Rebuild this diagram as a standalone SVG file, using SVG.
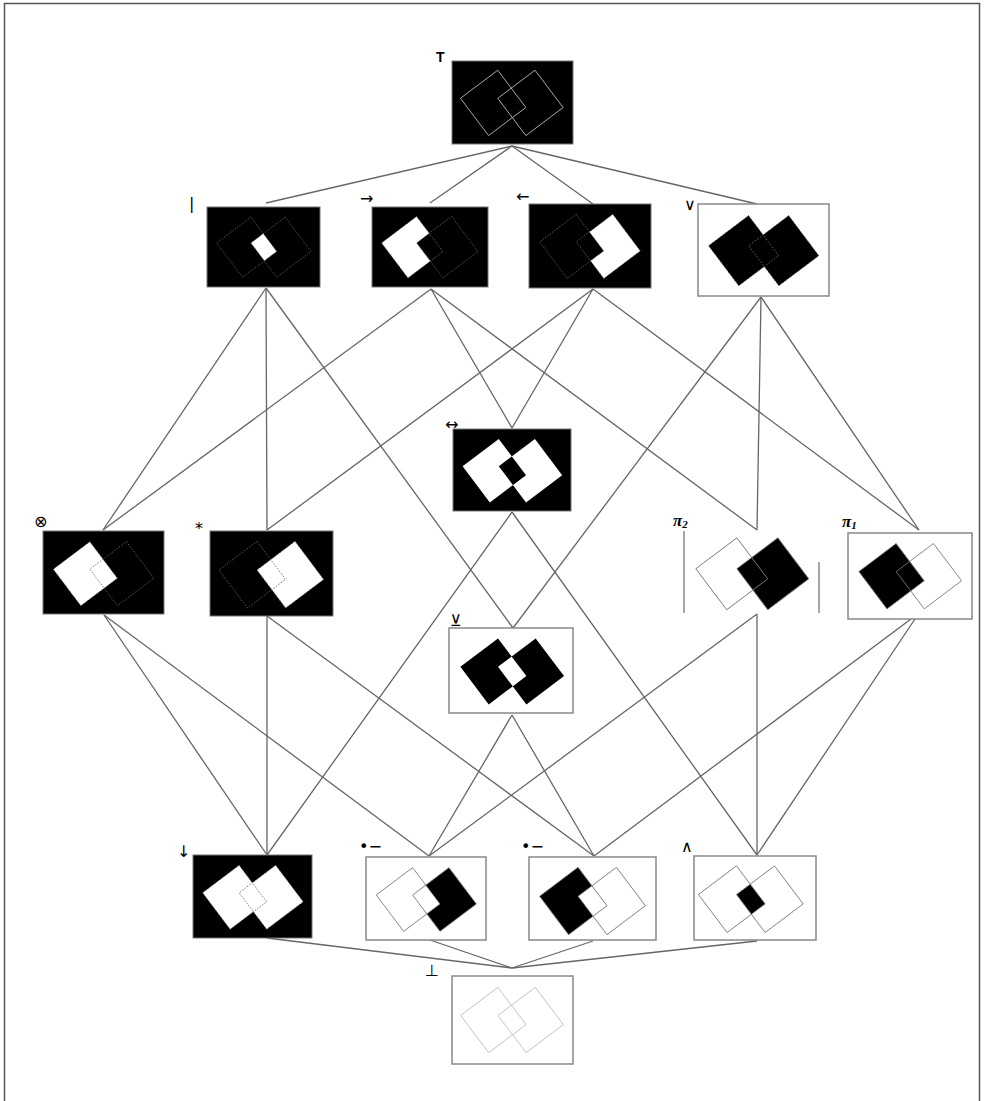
<svg xmlns="http://www.w3.org/2000/svg" xmlns:xlink="http://www.w3.org/1999/xlink" width="985" height="1101" viewBox="0 0 985 1101">
<style>
.bb{fill:#000;stroke:#777;stroke-width:1}
.wb{fill:#fff;stroke:#888;stroke-width:1.5}
.w{fill:#fff}
.k{fill:#000}
.dot{fill:none;stroke:#666;stroke-width:0.9;stroke-dasharray:1.5 1.5}
.lt{fill:none;stroke:#bbb;stroke-width:0.9}
.thin{fill:none;stroke:#777;stroke-width:0.9}
.lbl{font-family:"DejaVu Sans",sans-serif;font-size:16px;fill:#000}
.pi{font-family:"Liberation Serif",serif;font-size:17px;font-weight:bold;font-style:italic;fill:#000}
.cn line{stroke:#666;stroke-width:1.3}
.side{stroke:#888;stroke-width:1.5}
</style>
<defs>
<path id="L" d="M-14.06,-32.68 L14.03,4.59 L-23.24,32.68 L-51.33,-4.59 Z"/>
<path id="R" d="M23.24,-32.68 L51.33,4.59 L14.06,32.68 L-14.03,-4.59 Z"/>
<path id="I" d="M-14.03,-4.59 L-0.55,-14.76 L14.03,4.59 L0.55,14.76 Z"/>
<path id="Lo" fill-rule="evenodd" d="M-14.06,-32.68 L14.03,4.59 L-23.24,32.68 L-51.33,-4.59 Z M-14.03,-4.59 L-0.55,-14.76 L14.03,4.59 L0.55,14.76 Z"/>
<path id="Ro" fill-rule="evenodd" d="M23.24,-32.68 L51.33,4.59 L14.06,32.68 L-14.03,-4.59 Z M-14.03,-4.59 L-0.55,-14.76 L14.03,4.59 L0.55,14.76 Z"/>
<path id="X" fill-rule="evenodd" d="M-14.06,-32.68 L14.03,4.59 L-23.24,32.68 L-51.33,-4.59 Z M23.24,-32.68 L51.33,4.59 L14.06,32.68 L-14.03,-4.59 Z"/>
<g id="OL"><use xlink:href="#L"/><use xlink:href="#R"/></g>
</defs>

<rect x="4.5" y="3.5" width="975" height="1110" fill="#fff" stroke="#555" stroke-width="1.5"/>

<g id="connectors" class="cn">
<line x1="512" y1="146" x2="266" y2="203"/>
<line x1="512" y1="146" x2="430" y2="203"/>
<line x1="512" y1="146" x2="593" y2="204"/>
<line x1="512" y1="146" x2="757" y2="204"/>
<line x1="266" y1="288" x2="103" y2="530"/>
<line x1="266" y1="288" x2="267" y2="530"/>
<line x1="266" y1="288" x2="513" y2="628"/>
<line x1="431" y1="289" x2="103" y2="530"/>
<line x1="431" y1="289" x2="757" y2="530"/>
<line x1="431" y1="289" x2="512" y2="428"/>
<line x1="593" y1="289" x2="267" y2="530"/>
<line x1="593" y1="289" x2="919" y2="530"/>
<line x1="593" y1="289" x2="512" y2="428"/>
<line x1="761" y1="297" x2="919" y2="530"/>
<line x1="761" y1="297" x2="757" y2="530"/>
<line x1="761" y1="297" x2="513" y2="628"/>
<line x1="104" y1="615" x2="267" y2="855"/>
<line x1="104" y1="615" x2="429" y2="856"/>
<line x1="267" y1="616" x2="267" y2="855"/>
<line x1="267" y1="616" x2="594" y2="856"/>
<line x1="512" y1="512" x2="267" y2="855"/>
<line x1="512" y1="512" x2="757" y2="855"/>
<line x1="512" y1="715" x2="429" y2="856"/>
<line x1="512" y1="715" x2="594" y2="856"/>
<line x1="757" y1="614" x2="429" y2="856"/>
<line x1="757" y1="614" x2="757" y2="855"/>
<line x1="919" y1="613" x2="594" y2="856"/>
<line x1="919" y1="613" x2="757" y2="855"/>
<line x1="267" y1="938" x2="512" y2="968"/>
<line x1="430" y1="940" x2="512" y2="968"/>
<line x1="593" y1="941" x2="512" y2="968"/>
<line x1="757" y1="941" x2="512" y2="968"/>
</g>

<g id="n-top">
<rect class="bb" x="452" y="61" width="121" height="83"/>
<g transform="translate(511.8,102.9)"><use xlink:href="#OL" class="lt"/></g>
<text x="436" y="62" font-family="Liberation Sans, sans-serif" font-size="14" font-weight="bold">T</text>
</g>

<g id="n-nand">
<rect class="bb" x="207" y="207" width="113" height="80"/>
<g transform="translate(263.8,247.2) scale(0.92)"><use xlink:href="#I" class="w"/><use xlink:href="#OL" class="dot"/></g>
<text class="lbl" x="189" y="209">|</text>
</g>

<g id="n-impl">
<rect class="bb" x="372" y="207" width="116" height="80"/>
<g transform="translate(429.8,247.2) scale(0.94)"><use xlink:href="#Lo" class="w"/><use xlink:href="#OL" class="dot"/></g>
<text class="lbl" x="360" y="204" font-size="19">→</text>
</g>

<g id="n-rimpl">
<rect class="bb" x="529" y="204" width="122" height="84"/>
<g transform="translate(590,246.4) scale(0.98)"><use xlink:href="#Ro" class="w"/><use xlink:href="#OL" class="dot"/></g>
<text class="lbl" x="516" y="202" font-size="19">←</text>
</g>

<g id="n-or">
<rect class="wb" x="698" y="204" width="131" height="92"/>
<g transform="translate(763.7,250.7) scale(1.075)"><use xlink:href="#L" class="k"/><use xlink:href="#R" class="k"/><use xlink:href="#OL" class="dot"/></g>
<text class="lbl" x="684" y="210" font-size="17">∨</text>
</g>

<g id="n-iff">
<rect class="bb" x="453" y="429" width="118" height="82"/>
<g transform="translate(512.4,470.7) scale(0.97)"><use xlink:href="#X" class="w"/></g>
<text class="lbl" x="445" y="430" font-size="16">↔</text>
</g>

<g id="n-nota">
<rect class="bb" x="43" y="531" width="121" height="83"/>
<g transform="translate(103.6,573.7) scale(0.98)"><use xlink:href="#L" class="w"/><use xlink:href="#OL" class="dot"/></g>
<text class="lbl" x="34" y="527" font-size="15">⊗</text>
</g>

<g id="n-notb">
<rect class="bb" x="210" y="531" width="123" height="85"/>
<g transform="translate(271.3,574.7) scale(1.02)"><use xlink:href="#R" class="w"/><use xlink:href="#OL" class="dot"/></g>
<text class="lbl" x="195" y="534" font-size="17">*</text>
</g>

<g id="n-pi2">
<line class="side" x1="684" y1="531" x2="684" y2="613"/>
<line class="side" x1="819" y1="562" x2="819" y2="613"/>
<g transform="translate(752.3,573.8) scale(1.1)"><use xlink:href="#R" class="k"/><use xlink:href="#OL" class="thin"/></g>
<text class="pi" x="673" y="526">π<tspan font-size="11" dy="2">2</tspan></text>
</g>

<g id="n-pi1">
<rect class="wb" x="848" y="533" width="124" height="86"/>
<g transform="translate(910.2,576.2)"><use xlink:href="#L" class="k"/><use xlink:href="#OL" class="thin"/></g>
<text class="pi" x="842" y="527">π<tspan font-size="11" dy="2">1</tspan></text>
</g>

<g id="n-xor">
<rect class="wb" x="449" y="628" width="124" height="85"/>
<g transform="translate(512.2,671.4) scale(1.01)"><use xlink:href="#X" class="k"/></g>
<text class="lbl" x="450" y="626" font-size="15">⊻</text>
</g>

<g id="n-nor">
<rect class="bb" x="193" y="855" width="119" height="83"/>
<g transform="translate(252.9,897.3) scale(0.98)"><use xlink:href="#L" class="w"/><use xlink:href="#R" class="w"/><use xlink:href="#OL" class="dot"/></g>
<text class="lbl" x="177" y="857" font-size="17">↓</text>
</g>

<g id="n-bna">
<rect class="wb" x="366" y="857" width="120" height="83"/>
<g transform="translate(426.3,899.5) scale(0.975)"><use xlink:href="#Ro" class="k"/><use xlink:href="#OL" class="thin"/></g>
<text class="lbl" x="359" y="852" font-size="13">•−</text>
</g>

<g id="n-anb">
<rect class="wb" x="529" y="857" width="127" height="83"/>
<g transform="translate(592.5,901) scale(1.03)"><use xlink:href="#Lo" class="k"/><use xlink:href="#OL" class="thin"/></g>
<text class="lbl" x="521" y="852" font-size="13">•−</text>
</g>

<g id="n-and">
<rect class="wb" x="694" y="856" width="122" height="84"/>
<g transform="translate(750.8,899.2) scale(1.02)"><use xlink:href="#I" class="k"/><use xlink:href="#OL" class="thin"/></g>
<text class="lbl" x="681" y="852" font-size="16">∧</text>
</g>

<g id="n-bot">
<rect class="wb" x="452" y="976" width="121" height="88"/>
<g transform="translate(512,1020)"><use xlink:href="#OL" class="lt"/></g>
<text class="lbl" x="425" y="976" font-size="15">⊥</text>
</g>
</svg>
